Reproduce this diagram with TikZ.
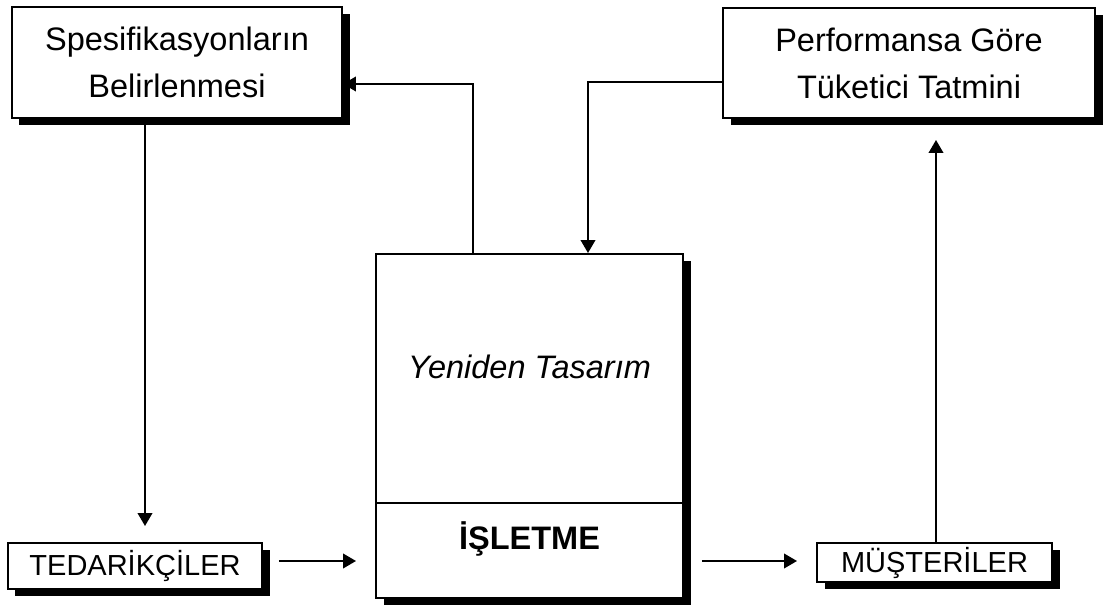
\documentclass[tikz,border=0pt]{standalone}
\usepackage{fontspec}
\setmainfont{Liberation Sans}
\usetikzlibrary{arrows.meta,shadows}
\tikzset{
  ar/.style={-{Triangle[length=2.6mm,width=2.9mm]},line width=1.25pt},
  box/.style={draw,line width=1.1pt,fill=white,inner sep=0pt,align=center,
    drop shadow={shadow xshift=1.5mm,shadow yshift=-1.5mm,fill=black,opacity=1}},
  toptxt/.style={font=\fontsize{18.5}{26.7}\selectfont},
  bottxt/.style={font=\fontsize{16.5}{19}\selectfont}
}

\begin{document}
\begin{tikzpicture}[x=0.2mm,y=0.2mm]
\useasboundingbox (0,0) rectangle (1104,610);
% upper row
\node[box,toptxt,minimum width=66mm,minimum height=22.2mm] (spec) at (177,547.5) {Spesifikasyonların\\Belirlenmesi};
\node[box,toptxt,minimum width=74.4mm,minimum height=22mm] (perf) at (909,547) {Performansa Göre\\Tüketici Tatmini};
% firm in the middle
\node[box,minimum width=61.4mm,minimum height=49.8mm] (design) at (529.5,231.5) {};
\node[box,minimum width=61.4mm,minimum height=19mm] (firm) at (529.5,59.5) {};
\node[font=\fontsize{18.5}{22}\selectfont\itshape] (designtxt) at ([yshift=2.4mm]design.center) {Yeniden Tasarım};
\node[font=\fontsize{18.5}{22}\selectfont\bfseries] (firmtxt) at ([yshift=2.4mm]firm.center) {İŞLETME};
% lower row
\node[box,bottxt,minimum width=50.8mm,minimum height=9.2mm] (tedarik) at (135,44) {TEDARİKÇİLER};
\node[box,bottxt,minimum width=47mm,minimum height=7.8mm] (musteri) at (934.5,47.5) {MÜŞTERİLER};

\coordinate (up) at (473,526);
\coordinate (down) at (588,528);
\coordinate (left) at (145,0);
\coordinate (right) at (936,0);
\coordinate (flow) at (0,49);
\draw[ar] (design.north -| up) |- (spec.east |- up);
\draw[ar] (perf.west |- down) -| (design.north -| down);
\draw[ar,shorten >=3.2mm] (spec.south -| left) -- (tedarik.north -| left);
\draw[ar,shorten <=3.2mm,shorten >=3.8mm] (tedarik.east |- flow) -- (firm.west |- flow);
\draw[ar,shorten <=3.6mm,shorten >=3.8mm] (firm.east |- flow) -- (musteri.west |- flow);
\draw[ar,shorten >=4.2mm] (musteri.north -| right) -- (perf.south -| right);
\end{tikzpicture}
\end{document}
